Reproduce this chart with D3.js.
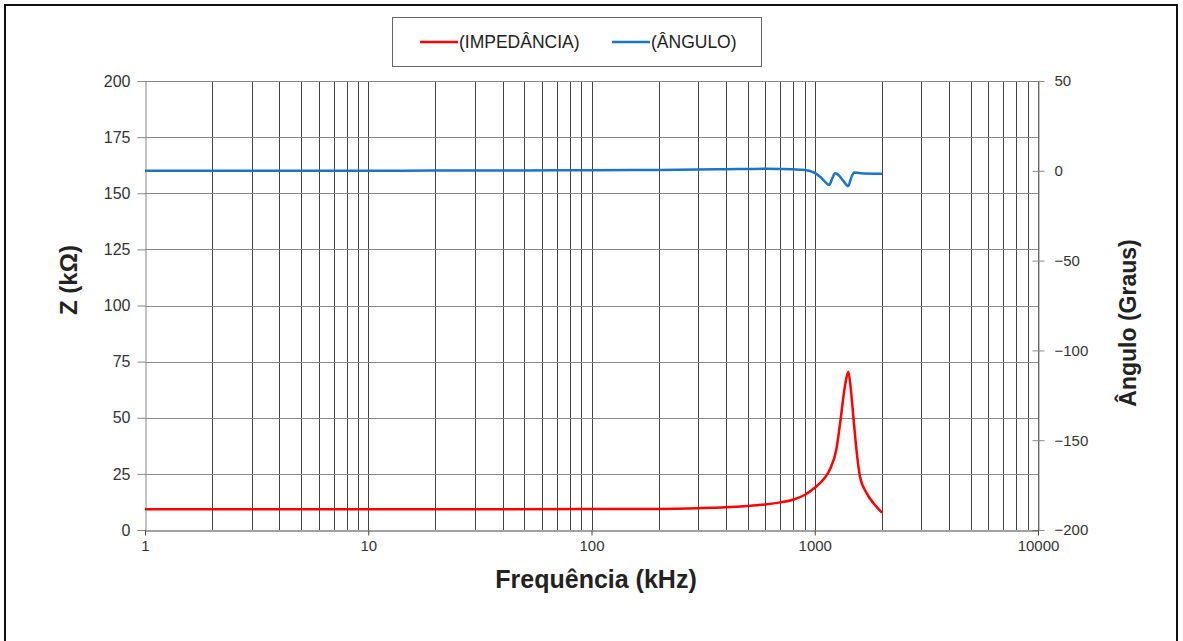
<!DOCTYPE html>
<html>
<head>
<meta charset="utf-8">
<script src="https://cdn.jsdelivr.net/npm/d3@7"></script>
<style>
  html, body { margin: 0; padding: 0; background: #fff; }
  svg { display: block; font-family: "Liberation Sans", Arial, sans-serif; }
</style>
</head>
<body>
<svg id="chart" width="1183" height="641"></svg>
<script>
// Frequency sweep (kHz) with measured impedance magnitude (kΩ)
const zFreq = [1, 10, 100, 200, 300, 400, 500, 600, 700, 800, 900, 1000, 1100, 1169, 1250, 1297, 1365, 1413, 1450, 1489, 1540, 1595, 1710, 1862, 2000];
const zValues = [9.2, 9.2, 9.3, 9.4, 9.7, 10.1, 10.7, 11.4, 12.3, 13.5, 15.6, 18.8, 22.8, 27, 36, 47, 64, 70.5, 63, 50.5, 35, 23.7, 16.3, 11.1, 7.7];

// Phase angle (degrees) over the same sweep
const aFreq = [1, 10, 20, 50, 100, 150, 200, 300, 400, 500, 600, 700, 800, 904, 1000, 1056, 1110, 1161, 1200, 1233, 1280, 1340, 1413, 1455, 1500, 1600, 2000];
const aValues = [0, 0, 0.1, 0.2, 0.3, 0.4, 0.5, 0.7, 0.9, 1.0, 1.1, 1.0, 0.8, 0.5, -1.2, -3.3, -6.0, -7.9, -4.0, -1.4, -2.5, -5.5, -8.5, -4.0, -0.9, -1.3, -1.6];

const zTicks = [0, 25, 50, 75, 100, 125, 150, 175, 200];
const aTicks = [-200, -150, -100, -50, 0, 50];
const xTickLabels = [1, 10, 100, 1000, 10000];

const seriesNames = ["(IMPEDÂNCIA)", "(ÂNGULO)"];
const seriesColors = ["#ff0000", "#1a75c9"];

const svg = d3.select("#chart");
const L = 145, R = 1038, T = 81, B = 530;

const x = d3.scaleLog().domain([1, 10000]).range([L, R]);
const yZ = d3.scaleLinear().domain([0, 200]).range([B, T]);
const yA = d3.scaleLinear().domain([-200, 50]).range([B, T]);

// outer frame
svg.append("rect").attr("x", 5).attr("y", 5).attr("width", 1172).attr("height", 660)
  .attr("fill", "none").attr("stroke", "#111").attr("stroke-width", 2);

// vertical grid: every 1..9 step in each decade
const gridVals = [];
for (let d = 1; d < 10000; d *= 10) for (let k = 1; k <= 9; k++) gridVals.push(d * k);
gridVals.push(10000);
svg.append("g").selectAll("line").data(gridVals.filter(v => v > 1)).join("line")
  .attr("x1", d => Math.round(x(d)) + 0.5).attr("x2", d => Math.round(x(d)) + 0.5)
  .attr("y1", T).attr("y2", B)
  .attr("stroke", "#444").attr("stroke-width", 1);

// horizontal grid
svg.append("g").selectAll("line").data(zTicks.filter(v => v > 0)).join("line")
  .attr("x1", L).attr("x2", R)
  .attr("y1", d => Math.round(yZ(d)) + 0.5).attr("y2", d => Math.round(yZ(d)) + 0.5)
  .attr("stroke", "#8a8a8a").attr("stroke-width", 1);

const tickFont = "Liberation Sans, Arial, sans-serif";

// left axis
const leftAxis = svg.append("g").attr("transform", `translate(${L + 0.5},0)`)
  .call(d3.axisLeft(yZ).tickValues(zTicks).tickSize(8).tickPadding(7));
leftAxis.select(".domain").attr("stroke", "#888");
leftAxis.selectAll(".tick line").attr("stroke", "#888");
leftAxis.selectAll("text").attr("font-size", 16).attr("fill", "#333").attr("font-family", tickFont);

// right axis
const rightAxis = svg.append("g").attr("transform", `translate(${R + 0.5},0)`)
  .call(d3.axisRight(yA).tickValues(aTicks).tickSizeInner(6).tickSizeOuter(0).tickPadding(10));
rightAxis.select(".domain").attr("stroke", "#888");
rightAxis.selectAll(".tick line").attr("stroke", "#888").attr("x1", -6);
rightAxis.selectAll("text").attr("font-size", 15).attr("fill", "#333").attr("font-family", tickFont);

// bottom axis
const bottomAxis = svg.append("g").attr("transform", `translate(0,${B + 0.5})`)
  .call(d3.axisBottom(x).tickValues(xTickLabels).tickFormat(d3.format("d"))
    .tickSizeInner(5).tickSizeOuter(0).tickPadding(5));
bottomAxis.select(".domain").attr("stroke", "#444");
bottomAxis.selectAll(".tick line").attr("stroke", "#444");
bottomAxis.selectAll("text").attr("font-size", 15).attr("fill", "#333").attr("font-family", tickFont);

// series
const lineZ = d3.line().x((d, i) => x(zFreq[i])).y(d => yZ(d)).curve(d3.curveMonotoneX);
const lineA = d3.line().x((d, i) => x(aFreq[i])).y(d => yA(d)).curve(d3.curveMonotoneX);

svg.append("path").datum(aValues).attr("d", lineA)
  .attr("fill", "none").attr("stroke", seriesColors[1]).attr("stroke-width", 2.5)
  .attr("stroke-linejoin", "round");
svg.append("path").datum(zValues).attr("d", lineZ)
  .attr("fill", "none").attr("stroke", seriesColors[0]).attr("stroke-width", 2.5)
  .attr("stroke-linejoin", "round");

// axis titles
svg.append("text").attr("x", 596).attr("y", 588).attr("text-anchor", "middle")
  .attr("font-size", 25).attr("font-weight", "bold").attr("fill", "#222")
  .text("Frequência (kHz)");
svg.append("text").attr("transform", "translate(77,280) rotate(-90)").attr("text-anchor", "middle")
  .attr("font-size", 24).attr("font-weight", "bold").attr("fill", "#222")
  .text("Z (kΩ)");
svg.append("text").attr("transform", "translate(1136,323) rotate(-90)").attr("text-anchor", "middle")
  .attr("font-size", 23).attr("font-weight", "bold").attr("fill", "#222")
  .text("Ângulo (Graus)");

// legend
const lg = svg.append("g");
lg.append("rect").attr("x", 392.5).attr("y", 17.5).attr("width", 369).attr("height", 49)
  .attr("fill", "#fff").attr("stroke", "#666").attr("stroke-width", 1);
const legendItems = [{ x: 420, name: seriesNames[0], color: seriesColors[0] },
                     { x: 612, name: seriesNames[1], color: seriesColors[1] }];
legendItems.forEach(it => {
  lg.append("line").attr("x1", it.x).attr("x2", it.x + 38).attr("y1", 42).attr("y2", 42)
    .attr("stroke", it.color).attr("stroke-width", 2.5);
  lg.append("text").attr("x", it.x + 39).attr("y", 48).attr("font-size", 17.5)
    .attr("fill", "#222").text(it.name);
});
</script>
</body>
</html>
